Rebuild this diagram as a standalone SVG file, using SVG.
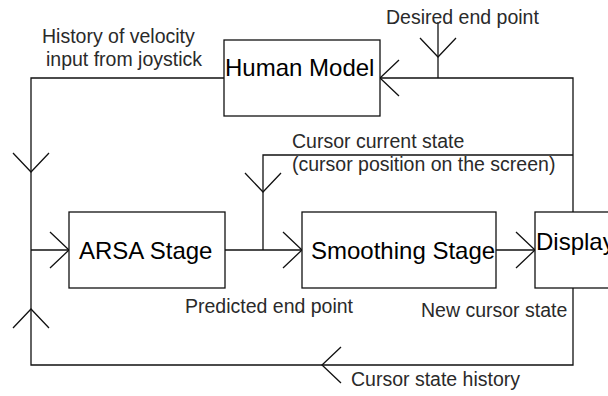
<svg xmlns="http://www.w3.org/2000/svg" xmlns:xlink="http://www.w3.org/1999/xlink" width="608" height="396" viewBox="0 0 608 396">
  <style>
    .box { fill: #fff; stroke: #111; stroke-width: 1.3; }
    .line { fill: none; stroke: #111; stroke-width: 1.3; }
    .title { font-family: "Liberation Sans", Arial, sans-serif; font-size: 24px; fill: #000; }
    .label { font-family: "Liberation Sans", Arial, sans-serif; font-size: 19.5px; fill: #2a2a2a; }
  </style>
  <defs>
    <!-- open arrowhead, tip at origin, pointing along +x -->
    <path id="head" class="line" d="M-19,-18 L0,0 L-19,18"/>
  </defs>
  <rect width="608" height="396" fill="#fff"/>

  <g id="connectors">
    <!-- feedback loop: human model output down to ARSA, cursor history from display -->
    <path class="line" d="M224,78 H31 V365 H573 V288"/>
    <path class="line" d="M573,212 V78 H380"/>
    <path class="line" d="M438,22 V78"/>
    <path class="line" d="M31,250 H69"/>
    <path class="line" d="M225,250 H302"/>
    <path class="line" d="M263,250 V155 H573"/>
    <path class="line" d="M496,250 H535"/>
    <use xlink:href="#head" transform="translate(31,172) rotate(90)"/>
    <use xlink:href="#head" transform="translate(31,309) rotate(-90)"/>
    <use xlink:href="#head" transform="translate(69,250)"/>
    <use xlink:href="#head" transform="translate(263,192) rotate(90)"/>
    <use xlink:href="#head" transform="translate(302,250)"/>
    <use xlink:href="#head" transform="translate(535,250)"/>
    <use xlink:href="#head" transform="translate(380,78) rotate(180)"/>
    <use xlink:href="#head" transform="translate(438,57) rotate(90)"/>
    <use xlink:href="#head" transform="translate(322,365) rotate(180)"/>
  </g>

  <g id="human-model">
    <rect class="box" x="224" y="40" width="156" height="76"/>
    <text class="title" x="225" y="76">Human Model</text>
  </g>
  <g id="arsa-stage">
    <rect class="box" x="69" y="212" width="156" height="76"/>
    <text class="title" x="79" y="259">ARSA Stage</text>
  </g>
  <g id="smoothing-stage">
    <rect class="box" x="302" y="212" width="194" height="76"/>
    <text class="title" x="311" y="259">Smoothing Stage</text>
  </g>
  <g id="display">
    <rect class="box" x="535" y="212" width="100" height="76"/>
    <text class="title" x="536" y="250">Display</text>
  </g>

  <g id="labels">
    <text class="label" x="42" y="43">History of velocity</text>
    <text class="label" x="46" y="66">input from joystick</text>
    <text class="label" x="386" y="24">Desired end point</text>
    <text class="label" x="292" y="148">Cursor current state</text>
    <text class="label" x="292" y="171">(cursor position on the screen)</text>
    <text class="label" x="185" y="313">Predicted end point</text>
    <text class="label" x="421" y="317">New cursor state</text>
    <text class="label" x="351" y="386">Cursor state history</text>
  </g>
</svg>
